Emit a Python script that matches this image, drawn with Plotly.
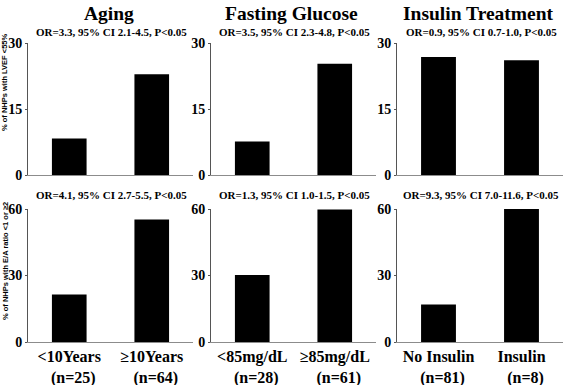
import plotly.graph_objects as go

W, H = 567, 385

# ---- data ----
panel_titles = ["Aging", "Fasting Glucose", "Insulin Treatment"]
group_labels = [["<10Years", "≥10Years"], ["<85mg/dL", "≥85mg/dL"], ["No Insulin", "Insulin"]]
group_n = [[25, 64], [28, 61], [81, 8]]
lvef_values = [[8.3, 22.9], [7.6, 25.3], [26.8, 26.1]]        # % of NHPs with LVEF <55%
ea_values = [[21.4, 55.3], [30.2, 59.8], [16.9, 60.0]]        # % with E/A ratio <1 or >=2
or_top = ["OR=3.3, 95% CI 2.1-4.5, P<0.05", "OR=3.5, 95% CI 2.3-4.8, P<0.05", "OR=0.9, 95% CI 0.7-1.0, P<0.05"]
or_bottom = ["OR=4.1, 95% CI 2.7-5.5, P<0.05", "OR=1.3, 95% CI 1.0-1.5, P<0.05", "OR=9.3, 95% CI 7.0-11.6, P<0.05"]
top_ticks = [0, 15, 30]
bottom_ticks = [0, 30, 60]
ytitle_top = "% of NHPs with LVEF <55%"
ytitle_bottom = "% of NHPs with E/A ratio <1 or ≥2"

SERIF = "Liberation Serif, Times New Roman, serif"
SANS = "Liberation Sans, Arial, sans-serif"

x_px = [(28, 193), (211, 376), (397, 563)]
ytop_px = (43, 175)
ybot_px = (209, 342)

def px_x(a):
    return a / W

def px_y(a):
    return 1 - a / H

fig = go.Figure()
layout = dict(width=W, height=H, margin=dict(l=0, r=0, t=0, b=0, autoexpand=False),
              paper_bgcolor="white", plot_bgcolor="white", showlegend=False,
              bargap=0.58, annotations=[])

cats = [0, 1]
k = 0
for row in range(2):
    for col in range(3):
        k += 1
        xa = "x" if k == 1 else f"x{k}"
        ya = "y" if k == 1 else f"y{k}"
        vals = lvef_values[col] if row == 0 else ea_values[col]
        fig.add_trace(go.Bar(x=cats, y=vals, xaxis=xa, yaxis=ya,
                             marker=dict(color="black", line=dict(width=0)),
                             hoverinfo="skip"))
        x0, x1 = x_px[col]
        yp = ytop_px if row == 0 else ybot_px
        ticks = top_ticks if row == 0 else bottom_ticks
        xkey = "xaxis" if k == 1 else f"xaxis{k}"
        ykey = "yaxis" if k == 1 else f"yaxis{k}"
        if row == 1:
            ticktext = [f"<b>{group_labels[col][i]}</b><br><b>  (n={group_n[col][i]})</b>" for i in range(2)]
        else:
            ticktext = ["", ""]
        layout[xkey] = dict(domain=[px_x(x0), px_x(x1)], anchor=ya, range=[-0.5, 1.5],
                            tickvals=cats, ticktext=ticktext, showticklabels=(row == 1),
                            tickfont=dict(family=SERIF, size=16, color="black"),
                            showline=True, linecolor="#8c8c8c", linewidth=1,
                            showgrid=False, zeroline=False, ticks="", fixedrange=True,
                            automargin=False)
        layout[ykey] = dict(domain=[px_y(yp[1]), px_y(yp[0])], anchor=xa,
                            range=[0, ticks[-1]], tickvals=ticks,
                            ticktext=[f"<b>{t}</b>" for t in ticks],
                            tickfont=dict(family=SERIF, size=14, color="black"),
                            showline=True, linecolor="#555555", linewidth=1,
                            ticks="outside", ticklen=2, tickcolor="#555555",
                            showgrid=False, zeroline=False, fixedrange=True,
                            automargin=False)
        # OR annotation
        txt = or_top[col] if row == 0 else or_bottom[col]
        layout["annotations"].append(dict(
            text=f"<b>{txt}</b>", xref="paper", yref="paper",
            x=px_x((x0 + x1) / 2 + 1), y=px_y(32 if row == 0 else 195),
            xanchor="center", yanchor="middle", showarrow=False,
            font=dict(family=SERIF, size=11, color="black")))

for col in range(3):
    x0, x1 = x_px[col]
    layout["annotations"].append(dict(
        text=f"<b>{panel_titles[col]}</b>", xref="paper", yref="paper",
        x=px_x((x0 + x1) / 2 - 2), y=px_y(13), xanchor="center", yanchor="middle",
        showarrow=False, font=dict(family=SERIF, size=19.5, color="black")))

layout["annotations"].append(dict(
    text=f"<b>{ytitle_top}</b>", xref="paper", yref="paper", textangle=-90,
    x=px_x(5), y=px_y(82), xanchor="center", yanchor="middle", showarrow=False,
    font=dict(family=SANS, size=7.5, color="black")))
layout["annotations"].append(dict(
    text=f"<b>{ytitle_bottom}</b>", xref="paper", yref="paper", textangle=-90,
    x=px_x(5), y=px_y(261), xanchor="center", yanchor="middle", showarrow=False,
    font=dict(family=SANS, size=7.5, color="black")))

fig.update_layout(**layout)
fig.write_html("out.html", config={"displayModeBar": False},
               post_script="document.body.style.margin='0';")
